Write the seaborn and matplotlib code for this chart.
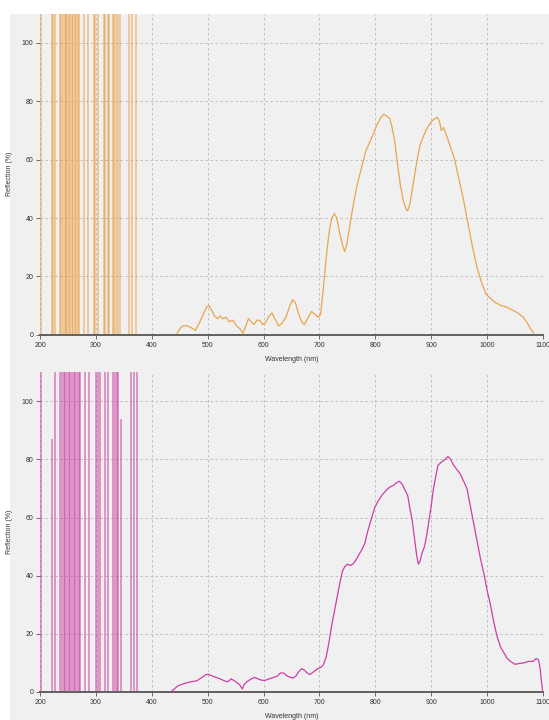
import numpy as np
import pandas as pd
import matplotlib
matplotlib.use("Agg")
import matplotlib.pyplot as plt
import seaborn as sns

# spectrum 1 (orange)
wl_top = [445, 450, 455, 462, 470, 478, 485, 492, 498, 502, 507, 512, 518, 522, 527, 533, 538, 545,
          552, 558, 563, 568, 573, 578, 583, 588, 593, 598, 603, 610, 615, 620, 627, 633, 640, 647,
          652, 657, 662, 668, 673, 680, 686, 692, 698, 702, 706, 710, 714, 718, 722, 727, 731, 736,
          741, 745, 749, 754, 760, 767, 775, 783, 790, 797, 803, 810, 815, 820, 826, 830, 835, 840,
          845, 850, 855, 858, 862, 868, 874, 880, 886, 893, 900, 906, 911, 915, 918, 922, 928, 935,
          942, 950, 958, 966, 974, 982, 990, 998, 1006, 1015, 1025, 1035, 1045, 1055, 1065, 1072,
          1078, 1084]
refl_top = [0.5, 2, 3, 3.2, 2.5, 1.5, 4, 7, 9.5, 10, 8.5, 6.5, 5.5, 6.5, 5.5, 6, 4.5, 5,
            3, 2, 0.5, 3, 5.5, 4.5, 3.5, 5, 5, 3.5, 4, 6.5, 7.5, 5.5, 3, 4, 6, 10,
            12, 11, 7.5, 4.5, 3.5, 6, 8, 7, 6, 7, 14, 22, 30, 36, 40, 41.5, 40, 35,
            31, 28.5, 31, 37, 44, 51, 57, 63, 66, 69, 72, 74.5, 75.5, 75, 74, 71, 66, 58,
            51, 46, 43, 42.5, 45, 52, 59, 65, 68, 71, 73, 74, 74.5, 73, 70, 71, 68, 64,
            60, 53, 46, 38, 30, 23, 18, 14, 12.5, 11, 10, 9.5, 8.5, 7.5, 6, 4,
            2, 0.5]

# spectrum 2 (magenta)
wl_bot = [434, 440, 446, 452, 460, 470, 480, 490, 497, 502, 508, 515, 522, 530, 536, 542, 550, 557,
          562, 565, 570, 578, 584, 590, 597, 603, 610, 618, 625, 630, 636, 642, 648, 653, 658, 663,
          668, 673, 678, 683, 690, 697, 703, 707, 712, 717, 722, 727, 732, 737, 741, 745, 750, 755,
          760, 764, 770, 776, 781, 786, 792, 799, 806, 813, 820, 826, 832, 838, 843, 848, 853, 858,
          862, 866, 870, 874, 877, 880, 884, 888, 892, 896, 900, 904, 908, 912, 918, 925, 930, 935,
          940, 946, 952, 958, 964, 970, 976, 982, 988, 994, 1000, 1006, 1012, 1018, 1024, 1030,
          1036, 1042, 1050, 1058, 1066, 1074, 1082, 1088, 1092, 1095, 1097, 1099, 1100]
refl_bot = [0, 1, 2, 2.5, 3, 3.5, 3.8, 5, 6, 6, 5.5, 5, 4.5, 3.8, 3.5, 4.5, 3.5, 2.5,
            1, 2.5, 3.5, 4.5, 5, 4.5, 4, 4, 4.5, 5, 5.5, 6.5, 6.5, 5.5, 5, 4.8, 5.5, 7,
            8, 7.5, 6.5, 6, 7, 8, 8.5, 9.3, 12, 17, 23, 28, 33, 38, 41.5, 43, 44, 43.5,
            44, 45, 47, 49, 51, 55, 59, 63.5, 66, 68, 69.5, 70.5, 71, 72, 72.5, 71.5, 69.5, 67.5,
            63, 59, 53, 47, 44, 45, 48, 50, 54, 59, 64, 70, 74, 78, 79, 80, 81, 80,
            78, 76.5, 75, 72.5, 70, 64, 58, 52, 46, 41, 35, 30, 24, 19, 15.5, 13.5,
            11.5, 10.5, 9.5, 9.8, 10, 10.5, 10.5, 11.5, 11, 8, 4, 1, 0]

# noise spikes in the UV region (wavelength, height)
spk_top_wl = [201, 221, 224, 227, 236, 238, 241, 244, 246, 249, 252, 254, 257, 259, 262, 265, 268,
              270, 279, 286, 296, 299, 304, 314, 317, 321, 324, 330, 333, 336, 339, 343, 360, 364, 372]
spk_top_h = [115] * len(spk_top_wl)
spk_bot_wl = [201, 222, 227, 236, 239, 242, 245, 248, 251, 254, 257, 260, 263, 266, 269, 271,
              281, 288, 300, 304, 307, 316, 322, 331, 334, 337, 340, 344, 363, 368, 374]
spk_bot_h = [115, 87, 115, 115, 115, 115, 115, 115, 115, 115, 115, 115, 115, 115, 115, 115,
             115, 115, 115, 115, 115, 115, 115, 115, 115, 115, 115, 94, 115, 115, 115]

xticks = list(range(200, 1101, 100))
yticks = list(range(0, 101, 20))

sns.set_theme(style="ticks")
plt.rcParams['font.family'] = ['Liberation Sans', 'DejaVu Sans']

fig = plt.figure(figsize=(5.49, 7.2), dpi=100, facecolor='#f0f0f0')
fig.patches.append(plt.Rectangle((0, 0.981), 1, 0.019, transform=fig.transFigure,
                                 facecolor='white', edgecolor='none', zorder=-1))
fig.patches.append(plt.Rectangle((0, 0), 0.018, 1, transform=fig.transFigure,
                                 facecolor='white', edgecolor='none', zorder=-1))

ax1 = fig.add_axes([0.073, 0.535, 0.916, 0.446])
ax2 = fig.add_axes([0.073, 0.039, 0.916, 0.444])

panels = [
    (ax1, wl_top, refl_top, spk_top_wl, spk_top_h, '#e9a550', '#e89a3c'),
    (ax2, wl_bot, refl_bot, spk_bot_wl, spk_bot_h, '#cc3fa8', '#c62f9a'),
]

for ax, wl, refl, swl, sh, lc, sc in panels:
    ax.set_facecolor('#f0f0f0')
    ax.vlines(swl, 0, sh, colors=sc, linewidth=1.1, alpha=0.6, zorder=2)
    df = pd.DataFrame({'wl': wl, 'refl': refl})
    sns.lineplot(data=df, x='wl', y='refl', ax=ax, color=lc, linewidth=0.9, zorder=3)
    ax.set_xlim(200, 1100)
    ax.set_ylim(0, 110)
    ax.set_xticks(xticks)
    ax.set_yticks(yticks)
    ax.tick_params(labelsize=5, length=3, width=0.6, color='#555555', pad=2, labelcolor='#333333')
    ax.grid(True, linestyle=(0, (3, 3)), color='#b8b8b8', linewidth=0.6)
    for s in ['top', 'right', 'left']:
        ax.spines[s].set_visible(False)
    ax.spines['bottom'].set_color('#606060')
    ax.spines['bottom'].set_linewidth(1.4)
    ax.set_xlabel('Wavelength (nm)', fontsize=5, color='#333333', labelpad=5)
    ax.set_ylabel('Reflection (%)', fontsize=5, color='#333333', labelpad=6)

fig.savefig('out.png', dpi=100, facecolor=fig.get_facecolor())
